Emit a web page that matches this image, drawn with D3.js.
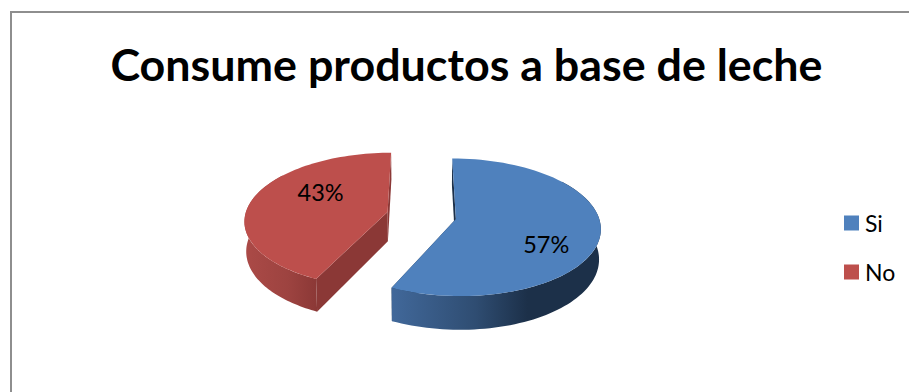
<!DOCTYPE html>
<html lang="es">
<head>
<meta charset="utf-8">
<title>Consume productos a base de leche</title>
<script src="https://cdn.jsdelivr.net/npm/d3@7/dist/d3.min.js"></script>
<style>
  html, body { margin: 0; padding: 0; background: #fff; overflow: hidden; }
  svg { display: block; }
  text { font-family: Lato, "Open Sans", sans-serif; fill: #000; }
</style>
</head>
<body>
<svg id="chart" width="909" height="392"></svg>
<script>
// Chart content
const titleText = "Consume productos a base de leche";
const categories = ["Si", "No"];
const shares = [57, 43];

// Slice colours: top face, cut face, wall gradient stops (left, middle, right)
const topColors = ["#4f81bd", "#bd4f4c"];
const cutColors = ["#1c3049", "#8b3836"];
const wallStops = [
  ["#41689a", "#2f4d72", "#1c3049"],
  ["#ab4a47", "#9d4340", "#8b3836"]
];

// Oblique view of the exploded pie
const view = { vx: 421.5, vy: 215.5, radius: 142.5, explode: 35, tilt: 0.47, persp: 0.118, height: 29.5, floorShrink: 0.99 };

const svg = d3.select("#chart");
const defs = svg.append("defs");

// Frame: only the top and left edges fall inside the page
svg.append("rect")
  .attr("x", 11).attr("y", 12).attr("width", 1000).attr("height", 500)
  .attr("fill", "#fff").attr("stroke", "#8e8e8e").attr("stroke-width", 2);

svg.append("text")
  .attr("x", 466.5).attr("y", 81)
  .attr("text-anchor", "middle")
  .attr("font-size", 44.8).attr("font-weight", 700)
  .text(titleText);

const pie = d3.pie().sort(null).value(d => d);
const arcs = pie(shares);
const line = d3.line();

// World point of a slice at a polar position around its exploded apex
function worldPoint(sliceArc, angle, r) {
  const mid = (sliceArc.startAngle + sliceArc.endAngle) / 2;
  return {
    X: view.explode * Math.sin(mid) + r * Math.sin(angle),
    Z: -view.explode * Math.cos(mid) - r * Math.cos(angle)
  };
}

// Project onto the page; floor = true gives the lower rim of the extruded wall
function project(p, floor) {
  const s = 1 / (1 - view.persp * p.Z / view.radius);
  const xs = floor ? s * view.floorShrink : s;
  return [
    view.vx + p.X * xs,
    view.vy + view.tilt * p.Z * s + (floor ? view.height * s : 0)
  ];
}

const angleSteps = (a0, a1) => d3.range(0, 81).map(i => a0 + (a1 - a0) * i / 80);

// The wall runs past the rim's turning point; the top face hides the overrun
const wallSpans = [[Math.PI * 0.3, arcs[0].endAngle], [arcs[1].startAngle, Math.PI * 1.7]];

arcs.forEach((a, i) => {
  const rimAngles = angleSteps(wallSpans[i][0], wallSpans[i][1]);
  const rimTop = rimAngles.map(t => project(worldPoint(a, t, view.radius), false));
  const rimFloor = rimAngles.map(t => project(worldPoint(a, t, view.radius), true));

  const ext = d3.extent(rimTop.concat(rimFloor), d => d[0]);
  // Gradient runs left to right along the wall; the blue one reaches full shade early
  const grad = defs.append("linearGradient")
    .attr("id", "wall" + i)
    .attr("gradientUnits", "userSpaceOnUse")
    .attr("x1", ext[0]).attr("x2", ext[1]).attr("y1", 0).attr("y2", 0);
  const midOffset = i === 0 ? 0.4 : 0.6;
  [[0, 0], [midOffset, 1], [i === 0 ? 0.65 : 1, 2]].forEach(([o, k]) => {
    grad.append("stop").attr("offset", o).attr("stop-color", wallStops[i][k]);
  });

  const g = svg.append("g").attr("class", "slice");

  // Cut faces, painted before the top face so that it covers their hidden part
  [a.startAngle, a.endAngle].forEach(t => {
    const apex = worldPoint(a, t, 0);
    const rim = worldPoint(a, t, view.radius);
    g.append("path")
      .attr("d", line([project(apex, false), project(rim, false), project(rim, true), project(apex, true)]) + "Z")
      .attr("fill", cutColors[i]);
  });

  g.append("path")
    .attr("d", line(rimTop.concat(rimFloor.slice().reverse())) + "Z")
    .attr("fill", `url(#wall${i})`);

  const topPts = [project(worldPoint(a, 0, 0), false)]
    .concat(angleSteps(a.startAngle, a.endAngle).map(t => project(worldPoint(a, t, view.radius), false)));
  g.append("path")
    .attr("d", line(topPts) + "Z")
    .attr("fill", topColors[i]);
});

// Percentage labels, placed from each slice's mid angle
const labelShift = [[-10, 14.5], [27.5, -10]];
arcs.forEach((a, i) => {
  const mid = (a.startAngle + a.endAngle) / 2;
  const [x, y] = project(worldPoint(a, mid, view.radius * 0.7), false);
  svg.append("text")
    .attr("x", x + labelShift[i][0])
    .attr("y", y + labelShift[i][1])
    .attr("text-anchor", "middle")
    .attr("dominant-baseline", "central")
    .attr("font-size", 23.5)
    .text(a.data + "%");
});

// Legend
const legendY = d3.scalePoint().domain(categories).range([223, 272]);
const legend = svg.selectAll("g.legend").data(categories).join("g")
  .attr("class", "legend")
  .attr("transform", d => `translate(844,${legendY(d)})`);
legend.append("rect")
  .attr("x", 0).attr("y", -7.5).attr("width", 15).attr("height", 15)
  .attr("fill", (d, i) => topColors[i]);
legend.append("text")
  .attr("x", 21).attr("y", 0)
  .attr("dominant-baseline", "central")
  .attr("font-size", 23)
  .text(d => d);
</script>
</body>
</html>
